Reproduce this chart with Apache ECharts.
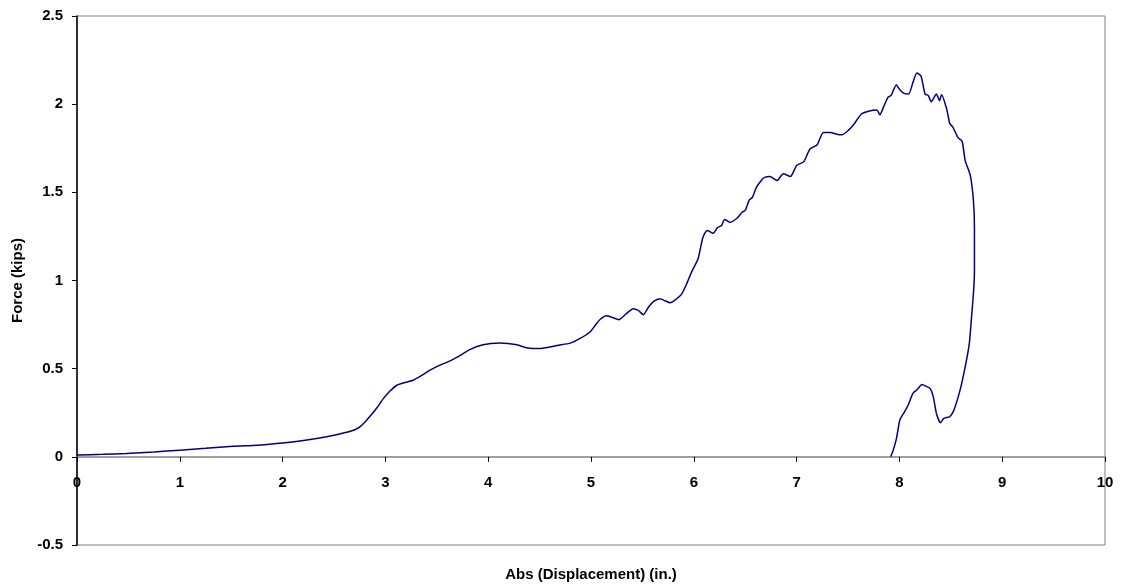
<!DOCTYPE html>
<html>
<head>
<meta charset="utf-8">
<script src="https://cdn.jsdelivr.net/npm/echarts@6/dist/echarts.min.js"></script>
<style>html,body{margin:0;padding:0;background:#fff;}#c{width:1122px;height:588px;}</style>
</head>
<body>
<div id="c"></div>
<script>
const xTitle = 'Abs (Displacement) (in.)';
const yTitle = 'Force (kips)';
const displacement = [0,0.25,0.48,0.75,1.0,1.25,1.52,1.75,2.0,2.17,2.33,2.5,2.66,2.74,2.79,2.85,2.92,2.98,3.04,3.11,3.18,3.27,3.35,3.43,3.53,3.63,3.72,3.82,3.95,4.11,4.28,4.37,4.50,4.60,4.67,4.80,4.89,4.99,5.04,5.09,5.15,5.21,5.27,5.34,5.41,5.46,5.51,5.56,5.61,5.67,5.72,5.77,5.83,5.88,5.93,5.98,6.04,6.06,6.09,6.13,6.19,6.23,6.27,6.30,6.35,6.42,6.47,6.50,6.54,6.57,6.61,6.66,6.69,6.74,6.81,6.87,6.94,7.00,7.07,7.13,7.20,7.26,7.33,7.39,7.44,7.50,7.55,7.63,7.70,7.78,7.81,7.85,7.89,7.92,7.97,8.00,8.04,8.09,8.13,8.17,8.21,8.25,8.28,8.31,8.36,8.39,8.41,8.46,8.49,8.52,8.57,8.61,8.64,8.69,8.72,8.73,8.73,8.73,8.72,8.70,8.68,8.64,8.59,8.53,8.49,8.46,8.43,8.40,8.36,8.33,8.30,8.26,8.22,8.17,8.13,8.09,8.05,8.01,8.00,7.97,7.94,7.915];
const force = [0.010,0.014,0.019,0.028,0.038,0.048,0.060,0.066,0.079,0.090,0.104,0.123,0.145,0.165,0.19,0.23,0.28,0.33,0.37,0.406,0.42,0.434,0.46,0.49,0.52,0.544,0.572,0.608,0.636,0.645,0.636,0.619,0.614,0.623,0.632,0.645,0.67,0.708,0.745,0.78,0.80,0.79,0.778,0.81,0.84,0.83,0.806,0.85,0.882,0.897,0.885,0.874,0.895,0.921,0.98,1.05,1.12,1.17,1.246,1.284,1.268,1.30,1.312,1.346,1.33,1.353,1.387,1.397,1.457,1.472,1.529,1.57,1.585,1.59,1.567,1.605,1.59,1.652,1.674,1.746,1.77,1.84,1.84,1.83,1.826,1.85,1.88,1.944,1.96,1.967,1.94,1.99,2.04,2.05,2.11,2.085,2.063,2.057,2.12,2.177,2.16,2.057,2.05,2.014,2.057,2.02,2.054,1.973,1.89,1.87,1.81,1.79,1.68,1.595,1.454,1.30,1.19,1.05,0.925,0.78,0.642,0.51,0.378,0.264,0.227,0.223,0.217,0.193,0.246,0.34,0.387,0.40,0.41,0.38,0.359,0.30,0.255,0.217,0.198,0.10,0.038,0.0];
const data = displacement.map((x, i) => [x, force[i]]);

const H = 588, gridTop = 16, gridBottom = 43;
const yMin = -0.5, yMax = 2.5;
const plotH = H - gridTop - gridBottom;
const zeroOffset = plotH * (0 - yMin) / (yMax - yMin);

const chart = echarts.init(document.getElementById('c'), null, {renderer: 'canvas'});
const font = '"Liberation Sans", Arial, sans-serif';
chart.setOption({
  animation: false,
  backgroundColor: '#fff',
  grid: {left: 77, top: gridTop, right: 17, bottom: gridBottom, outerBoundsMode: 'none', containLabel: false,
         show: true, borderColor: '#808080', borderWidth: 1, backgroundColor: 'transparent'},
  xAxis: {
    type: 'value', min: 0, max: 10, interval: 1,
    offset: -zeroOffset,
    name: xTitle, nameLocation: 'middle', nameGap: 111,
    nameTextStyle: {fontFamily: font, fontWeight: 'bold', fontSize: 15, color: '#000'},
    axisLine: {onZero: false, lineStyle: {color: '#808080', width: 1.5}},
    axisTick: {show: true, inside: false, length: 5, lineStyle: {color: '#000'}},
    axisLabel: {fontFamily: font, fontWeight: 'bold', fontSize: 15, color: '#000', margin: 19},
    splitLine: {show: false}
  },
  yAxis: {
    type: 'value', min: yMin, max: yMax, interval: 0.5,
    name: yTitle, nameLocation: 'middle', nameGap: 52, nameRotate: 90,
    nameTextStyle: {fontFamily: font, fontWeight: 'bold', fontSize: 15, color: '#000'},
    axisLine: {show: true, onZero: false, lineStyle: {color: '#000', width: 1.5}},
    axisTick: {show: true, length: 5, lineStyle: {color: '#000'}},
    axisLabel: {fontFamily: font, fontWeight: 'bold', fontSize: 15, color: '#000', margin: 14},
    splitLine: {show: false}
  },
  series: [{
    type: 'line',
    data: data,
    showSymbol: false,
    smooth: 0.2,
    lineStyle: {color: '#000080', width: 1.5},
    clip: true
  }]
});
</script>
</body>
</html>
